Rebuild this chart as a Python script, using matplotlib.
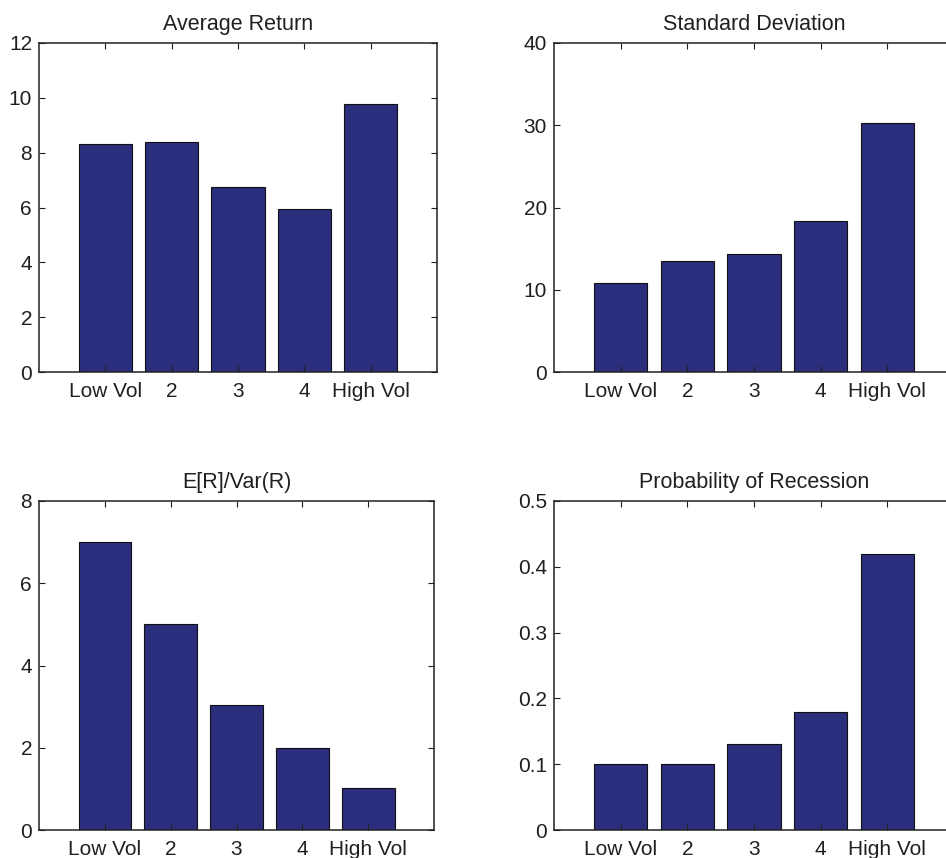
import matplotlib
matplotlib.use("Agg")
import matplotlib.pyplot as plt

categories = ["Low Vol", "2", "3", "4", "High Vol"]

avg_return = [8.33, 8.40, 6.75, 5.95, 9.78]
std_dev = [10.8, 13.5, 14.3, 18.4, 30.3]
ret_over_var = [7.0, 5.0, 3.03, 2.0, 1.03]
prob_recession = [0.10, 0.10, 0.13, 0.18, 0.42]

titles = ["Average Return", "Standard Deviation", "E[R]/Var(R)", "Probability of Recession"]
ylims = [(0, 12), (0, 40), (0, 8), (0, 0.5)]
yticks = [
    [0, 2, 4, 6, 8, 10, 12],
    [0, 10, 20, 30, 40],
    [0, 2, 4, 6, 8],
    [0, 0.1, 0.2, 0.3, 0.4, 0.5],
]
series = [avg_return, std_dev, ret_over_var, prob_recession]

plt.rcParams["font.family"] = ["Liberation Sans", "DejaVu Sans"]
text_color = "#231f20"
bar_color = "#2b2d7d"

fig = plt.figure(figsize=(9.46, 8.58), dpi=100)

W, H = 946.0, 858.0
# axes boxes in pixels: left, top, right, bottom
boxes = [
    (39, 43, 437, 372),
    (554, 43, 954, 372),
    (39, 501, 434, 830),
    (554, 501, 954, 830),
]

x = list(range(1, len(categories) + 1))

for box, vals, title, ylim, yt in zip(boxes, series, titles, ylims, yticks):
    l, t, r, b = box
    ax = fig.add_axes([l / W, 1 - b / H, (r - l) / W, (b - t) / H])
    ax.bar(x, vals, width=0.8, color=bar_color, edgecolor="#111111", linewidth=0.8)
    ax.set_xlim(0, 6)
    ax.set_ylim(*ylim)
    ax.set_xticks(x)
    ax.set_xticklabels(categories)
    ax.set_yticks(yt)
    ax.set_yticklabels([("%g" % v) for v in yt])
    ax.tick_params(direction="in", length=4, width=0.8, top=True, right=True,
                   labelsize=15, colors=text_color)
    ax.tick_params(axis="x", pad=7)
    ax.tick_params(axis="y", pad=5)
    for s in ax.spines.values():
        s.set_linewidth(1.1)
        s.set_color("#222222")
    ax.set_title(title, fontsize=15.5, color=text_color, pad=9.5)

fig.savefig("out.png", dpi=100)
